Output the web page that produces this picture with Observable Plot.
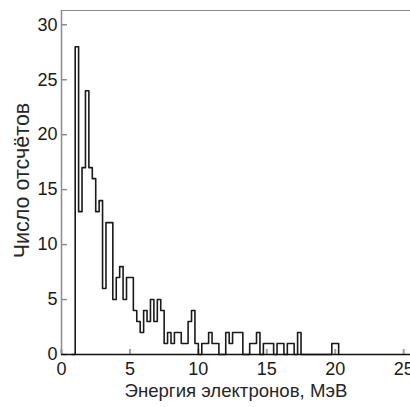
<!DOCTYPE html>
<html><head><meta charset="utf-8">
<script src="https://cdn.jsdelivr.net/npm/d3@7"></script>
<script src="https://cdn.jsdelivr.net/npm/@observablehq/plot@0.6"></script>
<style>body{margin:0;background:#fff}</style>
</head><body><div id="chart"></div>
<script>
const xTicks = [0, 5, 10, 15, 20, 25];
const yTicks = [0, 5, 10, 15, 20, 25, 30];
const firstEdge = 0.75;   // MeV, left edge of first bin
const binWidth = 0.25;    // MeV
const counts = [
  0, 28, 13, 17, 24, 17, 16, 13, 14, 6, 12, 12, 5, 7, 8, 5, 7, 7, 4, 3,
  2, 4, 3, 5, 3, 5, 4, 1, 2, 1, 2, 2, 1, 1, 3, 4, 1, 0, 1, 1,
  2, 1, 1, 0, 0, 2, 1, 2, 2, 2, 0, 0, 1, 1, 2, 0, 1, 1, 1, 0,
  1, 1, 0, 1, 1, 0, 2, 0, 0, 0, 0, 0, 0, 0, 0, 0, 1, 1
];
const xLabel = "Энергия электронов, МэВ";
const yLabel = "Число отсчётов";

const W = 410, H = 407, mL = 61, mR = 0, mT = 10, mB = 53;
const xDomain = [0, 25.5], yDomain = [0, 31.3];

const steps = counts.map((c, i) => ({x: firstEdge + i * binWidth, y: c}));
steps.push({x: firstEdge + counts.length * binWidth, y: 0});

const plot = Plot.plot({
  width: W, height: H,
  marginLeft: mL, marginRight: mR, marginTop: mT, marginBottom: mB,
  x: {domain: xDomain},
  y: {domain: yDomain},
  style: {fontFamily: "'Liberation Sans', Arial, sans-serif", background: "#fff", color: "#1a1a1a"},
  marks: [
    Plot.ruleY([yDomain[1]], {stroke: "#8c8c8c", strokeWidth: 1.2}),
    Plot.tickY(yTicks, {y: d => d, stroke: "#8c8c8c", strokeWidth: 1.5, insetRight: W - mL - mR - 6}),
    Plot.tickX(xTicks, {x: d => d, stroke: "#a0a0a0", strokeWidth: 2, insetTop: H - mT - mB - 5}),
    Plot.line(steps, {x: "x", y: "y", curve: "step-after", stroke: "#1a1a1a", strokeWidth: 1.6}),
    Plot.ruleX([0], {stroke: "#8c8c8c", strokeWidth: 1.5}),
    Plot.ruleY([0], {stroke: "#111", strokeWidth: 1.5}),
    Plot.axisX({ticks: xTicks, tickSize: 0, tickPadding: 8, fontSize: 18, label: null}),
    Plot.axisY({ticks: yTicks, tickSize: 0, tickPadding: 4, fontSize: 18, label: null}),
    Plot.text([xLabel], {frameAnchor: "bottom", textAnchor: "middle", dy: 42, fontSize: 18.6, fill: "#262626", text: d => d}),
    Plot.text([yLabel], {frameAnchor: "left", textAnchor: "middle", lineAnchor: "middle", dx: -39, dy: -2, rotate: -90, fontSize: 21.5, fill: "#262626", text: d => d})
  ]
});
document.getElementById("chart").appendChild(plot);
</script>
</body></html>
